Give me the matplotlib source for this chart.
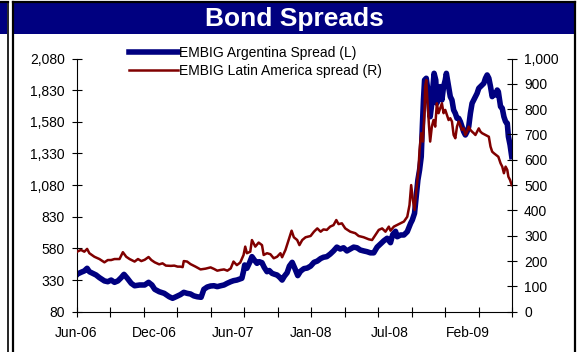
import matplotlib
matplotlib.use("Agg")
import matplotlib.pyplot as plt
import matplotlib.transforms as mtransforms
from matplotlib.patches import Rectangle
from matplotlib.lines import Line2D
from matplotlib.ticker import FuncFormatter

plt.rcParams['font.family'] = ['Liberation Sans', 'DejaVu Sans']

# x = business-day number counted from early June 2006
arg_day = [0, 1, 8, 14, 19, 23, 29, 35, 41, 50, 56, 62, 68, 74, 80, 85, 91, 98, 104, 113,
           122, 129, 135, 140, 148, 157, 166, 172, 178, 186, 192, 198, 204, 210, 216, 223,
           228, 234, 240, 246, 252, 258, 264, 270, 276, 281, 287, 292, 296, 299, 301, 305,
           310, 314, 318, 323, 327, 332, 336, 341, 345, 350, 355, 359, 364, 368, 372, 377,
           381, 386, 391, 396, 401, 407, 413, 419, 425, 431, 437, 442, 448, 454, 460, 466,
           472, 478, 484, 490, 496, 502, 508, 514, 520, 526, 532, 538, 544, 550, 556, 562,
           566, 571, 574, 580, 586, 592, 598, 601, 605, 608, 611, 614, 617, 619, 621, 623,
           626, 628, 631, 633, 636, 638, 640, 643, 645, 648, 651, 654, 657, 660, 662, 664,
           667, 669, 672, 675, 678, 681, 684, 687, 690, 693, 696, 699, 702, 705, 708, 711,
           714, 717, 720, 723, 726, 729, 732, 735, 738, 741, 744, 747, 750, 753, 755, 759,
           762, 765, 768, 771, 773, 776, 779]
arg_spread = [370, 376, 391, 402, 423, 396, 383, 370, 349, 323, 317, 330, 312, 323, 349, 375,
              344, 304, 285, 291, 291, 312, 291, 257, 238, 225, 198, 186, 198, 215, 233, 225,
              220, 205, 198, 194, 257, 275, 283, 285, 278, 285, 291, 305, 317, 325, 330, 338,
              344, 400, 449, 423, 470, 515, 490, 462, 475, 467, 430, 396, 405, 383, 375, 370,
              350, 330, 360, 388, 440, 470, 420, 365, 400, 420, 425, 440, 470, 480, 500, 510,
              515, 535, 560, 590, 575, 585, 560, 575, 590, 585, 567, 560, 554, 545, 545, 590,
              615, 640, 660, 625, 690, 715, 672, 686, 686, 712, 778, 804, 857, 989, 1120, 1199,
              1304, 1542, 1752, 1910, 1924, 1858, 1726, 1620, 1726, 1858, 1963, 1910, 1726,
              1805, 1858, 1752, 1858, 1910, 1963, 1910, 1831, 1779, 1752, 1673, 1647, 1608,
              1608, 1581, 1542, 1502, 1476, 1502, 1542, 1647, 1726, 1752, 1779, 1805, 1845,
              1858, 1871, 1884, 1924, 1950, 1924, 1858, 1779, 1805, 1792, 1831, 1818, 1700,
              1687, 1620, 1581, 1568, 1463, 1397, 1305]

lat_day = [0, 1, 8, 14, 19, 23, 32, 41, 50, 56, 62, 68, 77, 83, 89, 95, 104, 110, 116, 122,
           129, 134, 140, 148, 154, 160, 169, 175, 181, 186, 190, 192, 198, 204, 213, 222,
           231, 240, 246, 252, 258, 264, 270, 276, 281, 287, 293, 299, 302, 305, 311, 314,
           320, 326, 332, 335, 341, 347, 353, 359, 365, 368, 374, 380, 385, 389, 395, 399,
           404, 410, 419, 425, 431, 437, 442, 448, 454, 460, 465, 469, 475, 481, 490, 499,
           505, 514, 523, 529, 535, 541, 547, 553, 559, 562, 568, 577, 586, 592, 596, 599,
           602, 605, 608, 612, 614, 617, 620, 623, 624, 626, 628, 631, 633, 636, 639, 642,
           645, 648, 651, 654, 657, 660, 663, 666, 669, 672, 675, 678, 681, 684, 687, 690,
           693, 696, 699, 702, 705, 708, 711, 714, 717, 720, 723, 726, 732, 738, 741, 744,
           747, 751, 755, 759, 762, 765, 768, 771, 773, 776, 779]
lat_spread = [235, 237, 244, 237, 248, 231, 217, 208, 195, 204, 204, 208, 208, 235, 217, 208,
              198, 208, 200, 205, 216, 204, 195, 187, 191, 182, 181, 182, 178, 178, 176, 200,
              198, 188, 178, 167, 170, 175, 169, 162, 165, 167, 162, 171, 198, 184, 194, 224,
              257, 231, 237, 283, 257, 273, 263, 224, 231, 227, 211, 217, 231, 215, 244, 285,
              320, 294, 283, 263, 283, 294, 299, 316, 329, 316, 325, 323, 336, 342, 362, 346,
              349, 329, 316, 310, 299, 294, 286, 283, 303, 323, 329, 316, 336, 320, 336, 346,
              356, 375, 421, 500, 441, 402, 474, 560, 639, 705, 672, 797, 889, 915, 836, 731,
              672, 731, 757, 731, 823, 784, 803, 823, 784, 797, 777, 757, 764, 751, 698, 685,
              731, 751, 737, 718, 724, 698, 711, 731, 718, 711, 705, 698, 711, 724, 711, 705,
              698, 691, 652, 632, 626, 619, 612, 586, 573, 547, 573, 560, 533, 520, 500]

x_label_pos = [0, 140, 280, 420, 560, 700]
x_labels = ['Jun-06', 'Dec-06', 'Jun-07', 'Jan-08', 'Jul-08', 'Feb-09']
left_ticks = list(range(80, 2081, 250))
right_ticks = list(range(0, 1001, 100))

W, H = 583, 352
navy = '#000080'
dark_red = '#800000'

fig = plt.figure(figsize=(W / 100, H / 100), dpi=100)


def fx(px):
    return px / W


def fy(py):
    return 1 - py / H


# panel frame and title bar
fig.patches.append(Rectangle((0, fy(34)), fx(7), fy(3) - fy(34), transform=fig.transFigure,
                             facecolor=navy, edgecolor='none'))
fig.patches.append(Rectangle((fx(14), fy(34)), fx(574) - fx(14), fy(3) - fy(34),
                             transform=fig.transFigure, facecolor=navy, edgecolor='none'))
for xp, lw in [(7.5, 1.2), (13, 1.6), (575, 1.6)]:
    fig.add_artist(Line2D([fx(xp), fx(xp)], [0, fy(2)], transform=fig.transFigure,
                          color='black', lw=lw))
fig.add_artist(Line2D([0, fx(7.5)], [fy(2), fy(2)], transform=fig.transFigure, color='black', lw=1.6))
fig.add_artist(Line2D([fx(13), fx(575)], [fy(2), fy(2)], transform=fig.transFigure, color='black', lw=1.6))
fig.text(fx(294), fy(19), 'Bond Spreads', color='white', fontsize=19, fontweight='bold',
         ha='center', va='center')

ax = fig.add_axes([fx(76.5), fy(311.7), fx(512.3) - fx(76.5), fy(58.5) - fy(311.7)])
ax2 = ax.twinx()

l1, = ax.plot(arg_day, arg_spread, color=navy, lw=4, solid_joinstyle='round',
              label='EMBIG Argentina Spread (L)')
l2, = ax2.plot(lat_day, lat_spread, color=dark_red, lw=1.8,
               label='EMBIG Latin America spread (R)')

ax.set_xlim(0, 780)
ax.set_ylim(80, 2080)
ax2.set_ylim(0, 1000)

ax.set_xticks(range(0, 781, 60))
ax.set_xticklabels([])
ax.tick_params(axis='x', direction='inout', length=7, width=0.8)
# date labels sit between the tick marks, as in the source
trans = mtransforms.blended_transform_factory(ax.transData, ax.transAxes)
for pos, lab in zip(x_label_pos, x_labels):
    ax.text(pos, -0.055, lab, transform=trans, ha='center', va='top', fontsize=10)

ax.set_yticks(left_ticks)
ax.yaxis.set_major_formatter(FuncFormatter(lambda v, p: f'{int(v):,}'))
ax.tick_params(axis='y', direction='inout', length=7, width=0.8, labelsize=10, pad=5)
ax2.set_yticks(right_ticks)
ax2.yaxis.set_major_formatter(FuncFormatter(lambda v, p: f'{int(v):,}'))
ax2.tick_params(axis='y', direction='inout', length=7, width=0.8, labelsize=10, pad=5)

for s in ['top', 'right']:
    ax.spines[s].set_visible(False)
for s in ['top', 'left', 'bottom']:
    ax2.spines[s].set_visible(False)
for a in (ax, ax2):
    for s in a.spines.values():
        s.set_linewidth(0.8)

fig.legend([l1, l2], [l1.get_label(), l2.get_label()], loc='upper left',
           bbox_to_anchor=(fx(129), fy(46)), frameon=False, fontsize=10,
           handlelength=3.5, handletextpad=0.1, labelspacing=0.3, borderpad=0,
           borderaxespad=0)

fig.savefig('out.png', dpi=100)
